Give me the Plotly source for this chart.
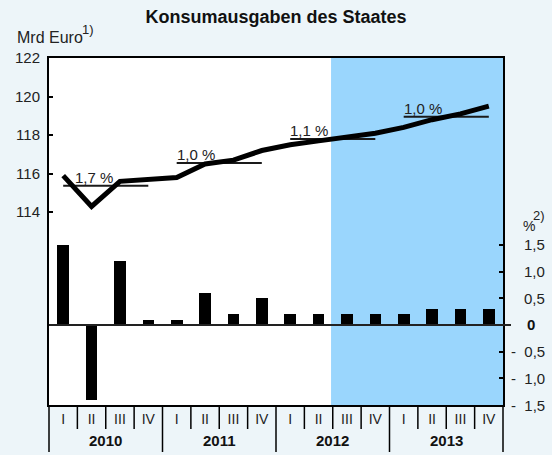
import plotly.graph_objects as go

# ---- data ----
quarters = ["I", "II", "III", "IV"] * 4
years = ["2010", "2011", "2012", "2013"]
consumption = [115.9, 114.3, 115.6, 115.7,
               115.8, 116.5, 116.7, 117.2,
               117.5, 117.7, 117.9, 118.1,
               118.4, 118.8, 119.1, 119.5]
change = [1.5, -1.4, 1.2, 0.1,
          0.1, 0.6, 0.2, 0.5,
          0.2, 0.2, 0.2, 0.2,
          0.2, 0.3, 0.3, 0.3]
annual_growth = ["1,7 %", "1,0 %", "1,1 %", "1,0 %"]
forecast_start = 10          # first forecast quarter (2012 III)
left_ticks = [114, 116, 118, 120, 122]
right_ticks = [-1.5, -1.0, -0.5, 0.5, 1.0, 1.5]
right_labels = ["-\u00a0\u00a01,5", "-\u00a0\u00a01,0", "-\u00a0\u00a00,5", "0,5", "1,0", "1,5"]

FONT = "Liberation Sans, Arial, sans-serif"
x = list(range(len(quarters)))
nq = len(quarters)

fig = go.Figure()

# bars: change vs previous quarter (right axis)
fig.add_trace(go.Bar(x=x, y=change, yaxis="y2", width=0.41,
                     marker=dict(color="black", line=dict(width=0)),
                     showlegend=False, hoverinfo="skip"))

# annual averages
for j, yr in enumerate(years):
    vals = consumption[4 * j:4 * j + 4]
    m = sum(vals) / len(vals)
    fig.add_trace(go.Scatter(x=[4 * j, 4 * j + 3], y=[m, m], mode="lines",
                             line=dict(color="#1a1a1a", width=2),
                             showlegend=False, hoverinfo="skip"))
    fig.add_annotation(x=4 * j, y=m, xref="x", yref="y", text=annual_growth[j],
                       showarrow=False, xanchor="left", yanchor="bottom",
                       xshift=(10 if j == 0 else -2), yshift=-2,
                       font=dict(family=FONT, size=15, color="#222"))

# consumption line (left axis)
fig.add_trace(go.Scatter(x=x, y=consumption, mode="lines",
                         line=dict(color="black", width=5),
                         showlegend=False, hoverinfo="skip"))

shapes = []
# forecast shading
shapes.append(dict(type="rect", xref="x", yref="y",
                   x0=forecast_start - 0.56, x1=nq - 0.5, y0=104, y1=122,
                   fillcolor="#9ad6fd", line=dict(width=0), layer="below"))
# zero line of right axis
shapes.append(dict(type="line", xref="paper", yref="y2", x0=0, x1=1.0176, y0=0, y1=0,
                   line=dict(color="#222", width=2), layer="above"))
# category separators under the axis
for k in range(nq + 1):
    full = (k % 4 == 0)
    shapes.append(dict(type="line", xref="paper", yref="paper",
                       x0=k / nq, x1=k / nq, y0=0, y1=(-0.1354 if full else -0.0692),
                       line=dict(color="black", width=1.5)))
fig.update_layout(shapes=shapes)

# year labels
for j, yr in enumerate(years):
    fig.add_annotation(x=4 * j + 1.5, y=-0.1009, xref="x", yref="paper", text="<b>%s</b>" % yr,
                       showarrow=False, xanchor="center", yanchor="middle",
                       font=dict(family=FONT, size=15, color="#111"))

# right axis labels
for v, t in zip(right_ticks, right_labels):
    fig.add_annotation(x=1.0969, y=v, xref="paper", yref="y2", text=t, showarrow=False,
                       xanchor="right", yanchor="middle",
                       font=dict(family=FONT, size=15, color="#222"))
fig.add_annotation(x=1.0485, y=0, xref="paper", yref="y2", text="<b>0</b>", showarrow=False,
                   xanchor="left", yanchor="middle",
                   font=dict(family=FONT, size=15, color="#111"))

# unit labels
fig.add_annotation(x=-0.0749, y=1.0605, xref="paper", yref="paper",
                   text="Mrd Euro", showarrow=False,
                   xanchor="left", yanchor="middle",
                   font=dict(family=FONT, size=16, color="#222"))
fig.add_annotation(x=0.0690, y=1.0835, xref="paper", yref="paper",
                   text="1)", showarrow=False,
                   xanchor="left", yanchor="middle",
                   font=dict(family=FONT, size=13, color="#222"))
fig.add_annotation(x=1.0390, y=0.5159, xref="paper", yref="paper",
                   text="%", showarrow=False,
                   xanchor="left", yanchor="middle",
                   font=dict(family=FONT, size=14, color="#222"))
fig.add_annotation(x=1.0610, y=0.5475, xref="paper", yref="paper",
                   text="2)", showarrow=False,
                   xanchor="left", yanchor="middle",
                   font=dict(family=FONT, size=13, color="#222"))

fig.update_layout(
    width=552, height=455,
    margin=dict(l=49, r=49, t=58, b=50, pad=0),
    paper_bgcolor="#edf5f9", plot_bgcolor="white",
    title=dict(text="<b>Konsumausgaben des Staates</b>", x=0.5, xref="container",
               y=0.9637, yref="container", xanchor="center", yanchor="middle",
               font=dict(family=FONT, size=18, color="#111")),
    bargap=0,
    xaxis=dict(range=[-0.5, nq - 0.5], tickvals=x, ticktext=quarters, ticks="",
               showline=True, mirror=True, linewidth=2, linecolor="black",
               showgrid=False, zeroline=False,
               tickfont=dict(family=FONT, size=14, color="#222")),
    yaxis=dict(range=[104, 122], tickvals=left_ticks, ticks="inside", ticklen=4,
               tickwidth=1.5, tickcolor="black",
               showline=True, mirror=True, linewidth=2, linecolor="black",
               showgrid=False, zeroline=False, ticklabelstandoff=4,
               tickfont=dict(family=FONT, size=15, color="#222")),
    yaxis2=dict(range=[-1.5, 5.0], overlaying="y", side="right", tickvals=right_ticks,
                ticks="inside", ticklen=4, tickwidth=1.5, tickcolor="black",
                showticklabels=False, showline=False, showgrid=False, zeroline=False),
)

fig.write_html("out.html", config={"displayModeBar": False},
               post_script="document.body.style.margin='0';document.body.style.background='#edf5f9';")
